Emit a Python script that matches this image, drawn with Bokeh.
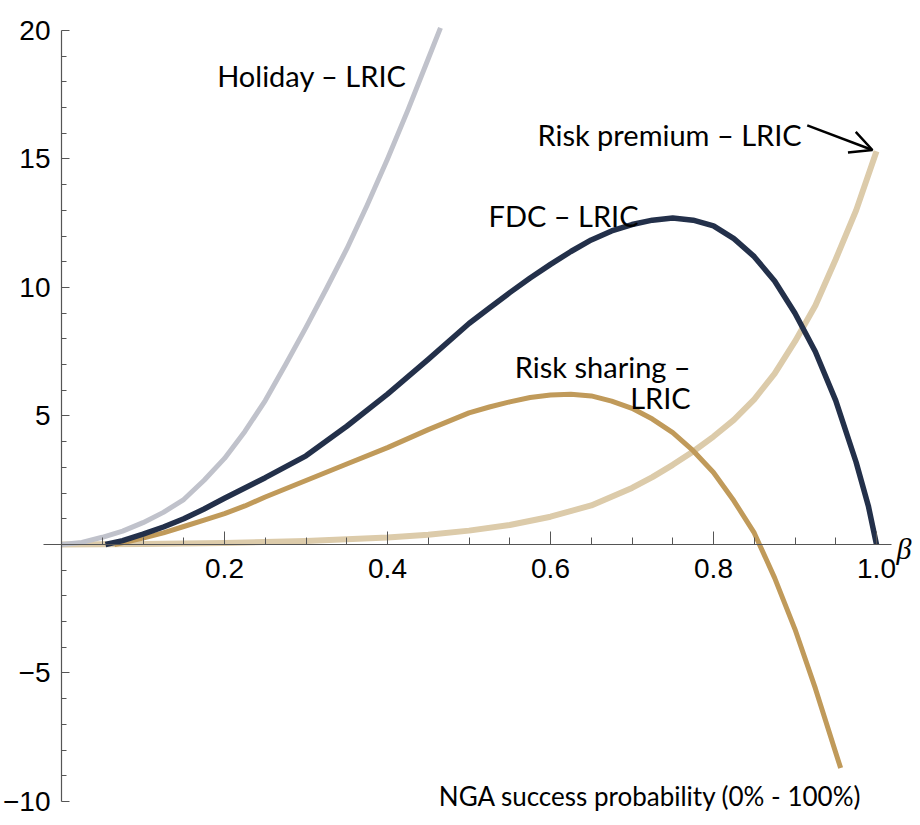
from bokeh.plotting import figure
from bokeh.models import FixedTicker, Range1d, Label, Arrow, OpenHead
from bokeh.embed import file_html
from bokeh.resources import INLINE

# ---- data ----
beta_holiday = [0.0, 0.025, 0.05, 0.075, 0.1, 0.125, 0.15, 0.175, 0.2, 0.225, 0.25,
                0.275, 0.3, 0.325, 0.35, 0.375, 0.4, 0.425, 0.45, 0.465]
holiday = [0.0, 0.08, 0.28, 0.52, 0.85, 1.25, 1.75, 2.5, 3.35, 4.4, 5.6,
           7.0, 8.45, 9.95, 11.5, 13.2, 15.0, 16.9, 18.9, 20.1]

beta_fdc = [0.054, 0.075, 0.1, 0.125, 0.15, 0.175, 0.2, 0.25, 0.3, 0.35, 0.4, 0.45,
            0.5, 0.525, 0.55, 0.575, 0.6, 0.625, 0.65, 0.675, 0.7, 0.725, 0.75,
            0.775, 0.8, 0.825, 0.85, 0.875, 0.9, 0.925, 0.95, 0.975, 0.99, 1.0]
fdc = [0.0, 0.15, 0.4, 0.68, 1.0, 1.38, 1.8, 2.6, 3.45, 4.6, 5.85, 7.2,
       8.6, 9.2, 9.8, 10.37, 10.9, 11.4, 11.85, 12.2, 12.45, 12.62, 12.7,
       12.62, 12.4, 11.9, 11.2, 10.25, 9.0, 7.5, 5.6, 3.2, 1.5, 0.0]

beta_sharing = [0.065, 0.08, 0.1, 0.125, 0.15, 0.175, 0.2, 0.225, 0.25, 0.3, 0.35,
                0.4, 0.45, 0.5, 0.525, 0.55, 0.575, 0.6, 0.625, 0.65, 0.675, 0.7,
                0.725, 0.75, 0.775, 0.8, 0.825, 0.85, 0.875, 0.9, 0.925, 0.95, 0.956]
sharing = [0.0, 0.1, 0.25, 0.45, 0.7, 0.95, 1.2, 1.5, 1.85, 2.49, 3.13,
           3.77, 4.47, 5.12, 5.35, 5.55, 5.72, 5.82, 5.85, 5.78, 5.58, 5.3,
           4.88, 4.35, 3.65, 2.8, 1.7, 0.45, -1.3, -3.3, -5.6, -8.1, -8.7]

beta_premium = [0.0, 0.1, 0.2, 0.3, 0.4, 0.45, 0.5, 0.55, 0.6, 0.65, 0.7, 0.725,
                0.75, 0.775, 0.8, 0.825, 0.85, 0.875, 0.9, 0.925, 0.95, 0.975, 1.0]
premium = [0.0, 0.02, 0.06, 0.14, 0.27, 0.38, 0.54, 0.76, 1.08, 1.52, 2.2, 2.62,
           3.1, 3.62, 4.2, 4.85, 5.65, 6.65, 7.9, 9.3, 11.1, 13.0, 15.3]

x_major = [0.2, 0.4, 0.6, 0.8, 1.0]
x_minor = [0.05, 0.1, 0.15, 0.25, 0.3, 0.35, 0.45, 0.5, 0.55, 0.65, 0.7, 0.75,
           0.85, 0.9, 0.95]
y_major = [-10, -5, 5, 10, 15, 20]
y_minor = [v for v in range(-10, 21) if v % 5 != 0]

# ---- figure ----
X0, X1 = -0.07485, 1.04417
Y0, Y1 = -10.623, 21.167

p = figure(width=912, height=817, x_range=Range1d(X0, X1), y_range=Range1d(Y0, Y1),
           output_backend="svg", toolbar_location=None, min_border=0)
p.outline_line_color = None
p.grid.visible = False
p.background_fill_color = "white"

axis_color = "#555555"
tick_font = "Liberation Sans"
for ax in (p.xaxis, p.yaxis):
    ax.axis_line_color = axis_color
    ax.axis_line_width = 1.2
    ax.major_tick_line_color = axis_color
    ax.minor_tick_line_color = axis_color
    ax.major_tick_out = 0
    ax.minor_tick_out = 0
    ax.major_label_text_font = tick_font
    ax.major_label_text_font_size = "28px"
    ax.major_label_text_color = "black"

p.xaxis.fixed_location = 0
p.yaxis.fixed_location = 0
p.xaxis.bounds = (-0.022, 1.018)
p.yaxis.bounds = (-10, 20)
p.xaxis.ticker = FixedTicker(ticks=x_major, minor_ticks=x_minor)
p.yaxis.ticker = FixedTicker(ticks=y_major, minor_ticks=y_minor)
p.xaxis.major_tick_in = 13
p.xaxis.minor_tick_in = 7
p.yaxis.major_tick_in = 8
p.yaxis.minor_tick_in = 5
p.xaxis.major_label_standoff = 15
p.yaxis.major_label_standoff = 11
p.xaxis.major_label_overrides = {1.0: "1.0"}
p.yaxis.major_label_overrides = {-10: "\u221210", -5: "\u22125"}

# ---- curves ----
p.line(beta_premium, premium, line_color="#DCCBAA", line_width=6, line_join="round")
p.line(beta_holiday, holiday, line_color="#C0C2CB", line_width=5, line_join="round")
p.line(beta_sharing, sharing, line_color="#C09A5A", line_width=5, line_join="round")
p.line(beta_fdc, fdc, line_color="#23304A", line_width=5.5, line_join="round")

# ---- annotations ----
lab_font = "Lato"
def add_label(x, y, text, align="left", size="29px", font=lab_font, style="normal",
              baseline="alphabetic"):
    p.add_layout(Label(x=x, y=y, text=text, text_align=align, text_baseline=baseline,
                       text_font=font, text_font_size=size, text_color="black",
                       text_font_style=style))

add_label(0.191, 18.26, "Holiday \u2013 LRIC")
add_label(0.584, 15.97, "Risk premium \u2013 LRIC")
add_label(0.524, 12.80, "FDC \u2013 LRIC")
add_label(0.772, 6.94, "Risk sharing \u2013", align="right")
add_label(0.772, 5.71, "LRIC", align="right")
add_label(0.463, -9.8, "NGA success probability (0% - 100%)", size="26px")
add_label(1.0245, -0.15, "\u03b2", size="30px", font="Liberation Serif", style="italic",
          baseline="middle")

p.add_layout(Arrow(x_start=0.915, y_start=16.31, x_end=0.995, y_end=15.35,
                   line_width=2.5, line_color="black",
                   end=OpenHead(size=22, line_width=2.5, line_color="black")))

open("out.html", "w").write(file_html(p, INLINE))
